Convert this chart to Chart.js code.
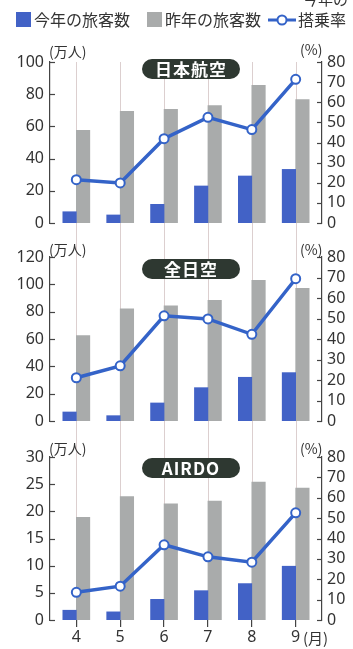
<!DOCTYPE html>
<html lang="ja">
<head>
<meta charset="UTF-8">
<title>旅客数と搭乗率</title>
<script src="https://cdn.jsdelivr.net/npm/chart.js"></script>
<style>
  html, body { margin: 0; padding: 0; background: #fff; }
  #wrap { position: relative; width: 353px; height: 649px; overflow: hidden; font-family: "Noto Sans CJK JP", "Noto Sans", sans-serif; color: #333; }
  canvas { position: absolute; left: 0; }
  .lbl { position: absolute; white-space: nowrap; line-height: 1; z-index: 2; }
  .sq { position: absolute; width: 15px; height: 15px; z-index: 2; }
  .badge { position: absolute; left: 142px; width: 98px; height: 20px; border-radius: 10px; background: #2e3831; color: #fff; font-weight: bold; font-size: 17px; line-height: 20px; text-align: center; z-index: 2; letter-spacing: 1px; }
</style>
</head>
<body>
<div id="wrap">
  <canvas id="c1" width="353" height="240" style="top:0px"></canvas>
  <canvas id="c2" width="353" height="200" style="top:240px"></canvas>
  <canvas id="c3" width="353" height="209" style="top:440px"></canvas>

  <!-- legend -->
  <div class="sq" style="left:16px; top:12px; background:#4262c6"></div>
  <div class="lbl" style="left:34px; top:11px; font-size:16px">今年の旅客数</div>
  <div class="sq" style="left:147px; top:12px; background:#a9abab"></div>
  <div class="lbl" style="left:165px; top:11px; font-size:16px">昨年の旅客数</div>
  <svg style="position:absolute; left:268px; top:12px; z-index:2" width="30" height="16">
    <line x1="0" y1="8" x2="28" y2="8" stroke="#3463c8" stroke-width="3"/>
    <circle cx="14" cy="8" r="4.5" fill="#fff" stroke="#3463c8" stroke-width="2"/>
  </svg>
  <div class="lbl" style="left:298px; top:11px; font-size:16px">搭乗率</div>
  <div class="lbl" style="left:303px; top:-9px; font-size:15px">今年の</div>

  <!-- panel titles -->
  <div class="badge" style="top:59px">日本航空</div>
  <div class="badge" style="top:259px">全日空</div>
  <div class="badge" style="top:458px">AIRDO</div>

  <!-- unit labels -->
  <div class="lbl" style="left:49px; top:44px; font-size:14px">(万人)</div>
  <div class="lbl" style="left:300px; top:42px; font-size:14px">(%)</div>
  <div class="lbl" style="left:49px; top:242px; font-size:14px">(万人)</div>
  <div class="lbl" style="left:300px; top:242px; font-size:14px">(%)</div>
  <div class="lbl" style="left:49px; top:441px; font-size:14px">(万人)</div>
  <div class="lbl" style="left:300px; top:441px; font-size:14px">(%)</div>
  <div class="lbl" style="left:303px; top:630px; font-size:15px">(月)</div>
</div>

<script>
  // 月
  const months = [4, 5, 6, 7, 8, 9];

  // 日本航空
  const jalThisYear = [7, 5, 11.6, 23, 29.2, 33.3];
  const jalLastYear = [57.5, 69.4, 70.6, 73, 85.5, 76.6];
  const jalRate = [21.5, 19.9, 41.9, 52.5, 46.4, 71.4];

  // 全日空
  const anaThisYear = [6.6, 3.9, 13.2, 24.4, 32, 35.4];
  const anaLastYear = [62.5, 82, 84.3, 88.3, 103, 97];
  const anaRate = [21.1, 26.9, 51.3, 49.8, 42.3, 69.4];

  // AIRDO
  const adoThisYear = [1.8, 1.5, 3.8, 5.4, 6.7, 9.9];
  const adoLastYear = [18.9, 22.7, 21.4, 21.9, 25.4, 24.3];
  const adoRate = [13.6, 16.6, 36.9, 31, 28.4, 52.6];

  const BLUE = '#4262c6';
  const GRAY = '#a9abab';
  const LINE = '#3463c8';
  const TICKFONT = { family: 'Noto Sans', size: 16 };

  function pts(arr) {
    return months.map(function (m, i) { return { x: m, y: arr[i] }; });
  }

  // 縦の補助線（パネル間もつながる）
  const vlines = {
    id: 'vlines',
    beforeDatasetsDraw(chart, args, opts) {
      const ctx = chart.ctx;
      const x = chart.scales.x;
      const y0 = opts.fromTop ? 0 : chart.chartArea.top;
      const y1 = opts.toBottom ? chart.height : chart.chartArea.bottom;
      ctx.save();
      ctx.strokeStyle = '#dccfcf';
      ctx.lineWidth = 1;
      months.forEach(function (m) {
        const px = Math.round(x.getPixelForValue(m)) + 0.5;
        ctx.beginPath();
        ctx.moveTo(px, y0);
        ctx.lineTo(px, y1);
        ctx.stroke();
      });
      ctx.restore();
    }
  };

  // 内向きの目盛り
  const innerTicks = {
    id: 'innerTicks',
    afterDraw(chart) {
      const ctx = chart.ctx;
      const area = chart.chartArea;
      ctx.save();
      ctx.strokeStyle = '#444';
      ctx.lineWidth = 1.2;
      ['y', 'y1'].forEach(function (id) {
        const s = chart.scales[id];
        s.ticks.forEach(function (t) {
          const py = Math.round(s.getPixelForValue(t.value)) + 0.5;
          ctx.beginPath();
          if (id === 'y') {
            ctx.moveTo(area.left, py);
            ctx.lineTo(area.left + 5, py);
          } else {
            ctx.moveTo(area.right - 5, py);
            ctx.lineTo(area.right, py);
          }
          ctx.stroke();
        });
      });
      ctx.restore();
    }
  };

  function makePanel(id, thisYear, lastYear, rate, leftMax, leftStep, showX, padTop, padBottom, fromTop, toBottom) {
    new Chart(document.getElementById(id), {
      type: 'bar',
      data: {
        datasets: [
          {
            type: 'line',
            label: '今年の搭乗率',
            data: pts(rate),
            yAxisID: 'y1',
            borderColor: LINE,
            borderWidth: 3.5,
            pointRadius: 4.5,
            pointBorderWidth: 2,
            pointBackgroundColor: '#fff',
            pointBorderColor: LINE,
            order: 0
          },
          {
            label: '今年の旅客数',
            data: pts(thisYear),
            yAxisID: 'y',
            backgroundColor: BLUE,
            barThickness: 13.5,
            order: 1
          },
          {
            label: '昨年の旅客数',
            data: pts(lastYear),
            yAxisID: 'y',
            backgroundColor: GRAY,
            barThickness: 13.5,
            order: 2
          }
        ]
      },
      options: {
        responsive: false,
        animation: false,
        layout: { padding: { top: padTop, bottom: padBottom, left: 0, right: 0 } },
        plugins: {
          legend: { display: false },
          tooltip: { enabled: false },
          vlines: { fromTop: fromTop, toBottom: toBottom }
        },
        scales: {
          x: {
            type: 'linear',
            min: 3.4,
            max: 9.6,
            offset: false,
            display: showX,
            afterBuildTicks(s) { s.ticks = months.map(function (m) { return { value: m }; }); },
            afterFit(s) { if (showX) s.height = 29; },
            ticks: { font: TICKFONT, color: '#333', padding: 1, autoSkip: false, maxRotation: 0, callback: function (v) { return String(v); } },
            grid: { display: true, offset: false, drawOnChartArea: false, drawTicks: true, tickLength: 7, color: '#444', lineWidth: 1.2 },
            border: { display: false }
          },
          y: {
            position: 'left',
            min: 0,
            max: leftMax,
            afterFit(s) { s.width = 50; },
            ticks: { stepSize: leftStep, font: TICKFONT, color: '#333', padding: 6, autoSkip: false },
            grid: { display: false, drawTicks: false },
            border: { display: true, color: '#444', width: 1.2 }
          },
          y1: {
            position: 'right',
            min: 0,
            max: 80,
            afterFit(s) { s.width = 31; },
            ticks: { stepSize: 10, font: TICKFONT, color: '#333', padding: 5, autoSkip: false },
            grid: { display: false, drawTicks: false },
            border: { display: true, color: '#444', width: 1.2 }
          }
        }
      },
      plugins: [vlines, innerTicks]
    });
  }

  makePanel('c1', jalThisYear, jalLastYear, jalRate, 100, 20, false, 62, 17, false, true);
  makePanel('c2', anaThisYear, anaLastYear, anaRate, 120, 20, false, 17, 19, true, true);
  makePanel('c3', adoThisYear, adoLastYear, adoRate, 30, 5, true, 17, 0, true, false);
</script>
</body>
</html>
